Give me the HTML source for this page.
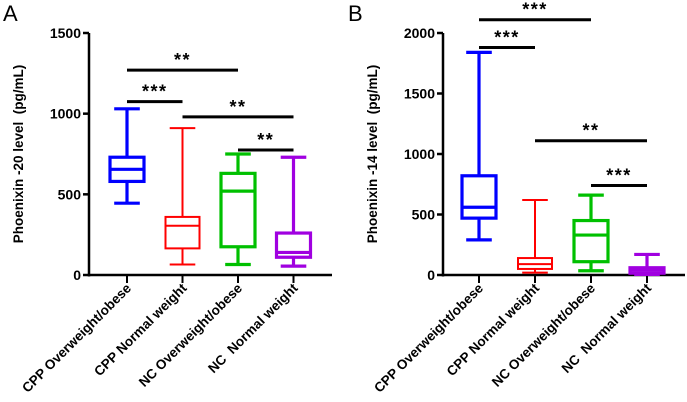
<!DOCTYPE html>
<html><head><meta charset="utf-8"><style>
html,body{margin:0;padding:0;background:#fff;}
svg{display:block;font-family:"Liberation Sans",Arial,sans-serif;}
svg text{white-space:pre;}
</style></head><body>
<svg id="chart" width="687" height="402" viewBox="0 0 687 402" xmlns="http://www.w3.org/2000/svg"></svg>
<script>
const categories = ["CPP Overweight/obese","CPP Normal weight","NC Overweight/obese","NC  Normal weight"];
const colors = ["#0000ff","#ff0000","#00c000","#a000e0"];
// [min, q1, median, q3, max]
const boxesA = [[445,580,655,730,1030],[65,165,305,360,910],[65,175,520,630,750],[55,110,140,260,730]];
const boxesB = [[290,470,560,820,1840],[20,50,90,140,620],[35,110,330,450,660],[5,15,40,60,170]];
const ticksA = [0,500,1000,1500];
const ticksB = [0,500,1000,1500,2000];
// [from index, to index, y value, label]
const sigA = [[0,2,1270,"**"],[0,1,1075,"***"],[1,3,980,"**"],[2,3,775,"**"]];
const sigB = [[0,2,2110,"***"],[0,1,1880,"***"],[1,3,1110,"**"],[2,3,740,"***"]];

const svg = document.getElementById('chart');
const NS = "http://www.w3.org/2000/svg";
function mk(tag, attrs, parent){const e=document.createElementNS(NS,tag);for(const k in attrs)e.setAttribute(k,attrs[k]);(parent||svg).appendChild(e);return e;}

function panel(cfg){
  const g = mk('g',{});
  
  
  const y = v => cfg.y0 - (v/cfg.ymax)*(cfg.y0-cfg.ytop);
  const x = i => cfg.x0 + i*cfg.step;
  const letter = mk('text',{x:cfg.lx,y:21,'font-size':22},g); letter.textContent=cfg.letter;
  
  
  const ya = mk('line',{x1:cfg.ax,y1:cfg.ytop,x2:cfg.ax,y2:cfg.y0+1.5,stroke:'#000','stroke-width':2.5},g);
  
  
  const xa = mk('line',{x1:cfg.ax-1,y1:cfg.y0,x2:cfg.xend,y2:cfg.y0,stroke:'#000','stroke-width':2.5},g);
  
  
  cfg.ticks.forEach(t=>{
    mk('line',{x1:cfg.ax-6,y1:y(t),x2:cfg.ax,y2:y(t),stroke:'#000','stroke-width':2.5},g);
    const tl = mk('text',{x:cfg.ax-8,y:y(t)+5,'font-size':14,'font-weight':'bold','text-anchor':'end'},g);
    tl.textContent=t;
    
    
  });
  const yt = mk('text',{x:0,y:0,'font-size':13.5,'font-weight':'bold','text-anchor':'middle',transform:`translate(${cfg.ax-66},${(cfg.ytop+cfg.y0)/2}) rotate(-90)`},g);
  yt.textContent=cfg.title;
  
  
  categories.forEach((c,i)=>{
    mk('line',{x1:x(i),y1:cfg.y0,x2:x(i),y2:cfg.y0+8,stroke:'#000','stroke-width':2},g);
    const cl = mk('text',{x:0,y:0,'font-size':13.5,'font-weight':'bold','text-anchor':'end',transform:`translate(${x(i)+5},${cfg.y0+14}) rotate(-45)`},g);
    cl.textContent=c;
    
    
  });
  cfg.boxes.forEach((b,i)=>{
    const bg = mk('g',{stroke:colors[i],'stroke-width':i==1?2:3.2,fill:'none'},g);
    
    
    const cx=x(i), hw=17, cw=8;
    mk('line',{x1:cx,y1:y(b[0]),x2:cx,y2:y(b[1])},bg);
    mk('line',{x1:cx,y1:y(b[3]),x2:cx,y2:y(b[4])},bg);
    mk('line',{x1:cx-cw*1.6,y1:y(b[0]),x2:cx+cw*1.6,y2:y(b[0])},bg);
    mk('line',{x1:cx-cw*1.6,y1:y(b[4]),x2:cx+cw*1.6,y2:y(b[4])},bg);
    mk('rect',{x:cx-hw,y:y(b[3]),width:hw*2,height:Math.max(0.5,y(b[1])-y(b[3]))},bg);
    mk('line',{x1:cx-hw,y1:y(b[2]),x2:cx+hw,y2:y(b[2])},bg);
  });
  cfg.sig.forEach(s=>{
    const l = mk('line',{x1:x(s[0]),y1:y(s[2]),x2:x(s[1]),y2:y(s[2]),stroke:'#000','stroke-width':3},g);
    
    
    const t = mk('text',{x:(x(s[0])+x(s[1]))/2,y:y(s[2])-4,'font-size':18,'font-weight':'bold','text-anchor':'middle','letter-spacing':'1.5'},g);
    t.textContent=s[3];
    
    
  });
}
panel({name:'panel-a',letter:'A',lx:3,ax:89,y0:275,ytop:33,ymax:1500,x0:127,step:55.5,xend:332,ticks:ticksA,boxes:boxesA,sig:sigA,title:'Phoenixin -20 level  (pg/mL)'});
panel({name:'panel-b',letter:'B',lx:348,ax:443,y0:275,ytop:33,ymax:2000,x0:479,step:56,xend:685,ticks:ticksB,boxes:boxesB,sig:sigB,title:'Phoenixin -14 level  (pg/mL)'});
</script>
</body></html>
